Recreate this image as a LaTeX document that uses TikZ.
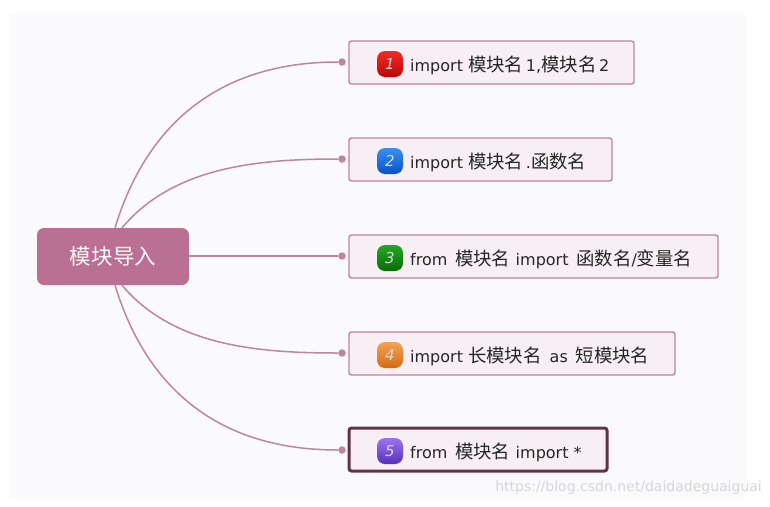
\documentclass[tikz,border=0pt]{standalone}
\usepackage{fontspec}
\setmainfont{DejaVu Sans}
\newfontfamily\cjk[Scale=1.15]{Noto Sans CJK SC}
\usepackage{tikz}
\definecolor{rootpink}{HTML}{BA7092}
\definecolor{linepink}{HTML}{BE859D}
\definecolor{boxpink}{HTML}{F7EFF3}
\definecolor{darkplum}{HTML}{5F3449}
\definecolor{paper}{HTML}{FAFAFC}
\definecolor{redA}{HTML}{F52A22}\definecolor{redB}{HTML}{B80808}
\definecolor{blueA}{HTML}{3A90F0}\definecolor{blueB}{HTML}{0A52C4}
\definecolor{greenA}{HTML}{22AA22}\definecolor{greenB}{HTML}{0A6A0A}
\definecolor{orangeA}{HTML}{F6A254}\definecolor{orangeB}{HTML}{D46A12}
\definecolor{violetA}{HTML}{9C74F0}\definecolor{violetB}{HTML}{5630BC}
\tikzset{
  topic/.style={draw=linepink, fill=boxpink, rounded corners=2.5pt, line width=1.4pt, minimum height=43pt, inner sep=0pt},
  label/.style={anchor=west, inner sep=0pt, text=black!85, font=\fontsize{16}{18}\selectfont},
  badge/.style={rounded corners=8pt, minimum size=26pt, inner sep=0pt, text=white!85!black, font=\fontsize{15}{18}\selectfont\itshape},
  knob/.style={circle, fill=linepink, minimum size=7.5pt, inner sep=0pt},
  wire/.style={draw=linepink, line width=1.5pt}
}
\begin{document}
\begin{tikzpicture}[x=1pt, y=-1pt]
  \useasboundingbox (0, 0) rectangle (770, 506);
  \fill[paper] (10, 14) rectangle (746, 498);
  \node[fill=rootpink, rounded corners=7pt, minimum width=152pt, minimum height=57pt, inner sep=0pt, text=white!88!pink, font=\fontsize{18.7}{22}\selectfont] (Root) at (113, 256.5) {\cjk 模块导入};

  \node[topic, minimum width=285pt] (T1) at (491.5, 62.5) {};
  \node[topic, minimum width=263pt] (T2) at (480.5, 159.5) {};
  \node[topic, minimum width=369pt] (T3) at (533.5, 256.5) {};
  \node[topic, minimum width=326pt] (T4) at (512, 353.5) {};
  \node[topic, draw=darkplum, line width=3pt, minimum width=258pt] (T5) at (478, 449.5) {};

  \node[badge, top color=redA, bottom color=redB] (B1) at (390, 64) {1};
  \node[badge, top color=blueA, bottom color=blueB] (B2) at (390, 161) {2};
  \node[badge, top color=greenA, bottom color=greenB] (B3) at (390, 258) {3};
  \node[badge, top color=orangeA, bottom color=orangeB] (B4) at (390, 355) {4};
  \node[badge, top color=violetA, bottom color=violetB] (B5) at (390, 451) {5};

  \node[label] (L1) at (410, 65.5) {import {\cjk 模块名}\,1,{\cjk 模块名}\,2};
  \node[label] (L2) at (410, 162.5) {import {\cjk 模块名}\,.{\cjk 函数名}};
  \node[label] (L3) at (410, 259.5) {from\, {\cjk 模块名}\,\,import\, {\cjk 函数名}/{\cjk 变量名}};
  \node[label] (L4) at (410, 356.5) {import {\cjk 长模块名}\,\,\,as\, {\cjk 短模块名}};
  \node[label] (L5) at (410, 452.5) {from\, {\cjk 模块名}\,\,import *};

  \node[knob] (K1) at (342, 62) {}; \node[knob] (K2) at (342, 159) {}; \node[knob] (K3) at (342, 256) {};
  \node[knob] (K4) at (342, 353) {}; \node[knob] (K5) at (342, 450) {};

  \draw[wire] ([xshift=2pt]Root.north) to[out=73, in=180, looseness=1.05] (K1);
  \draw[wire] ([xshift=9pt]Root.north) to[out=50, in=180, looseness=0.9] (K2);
  \draw[wire] (Root.east |- K3) to (K3);
  \draw[wire] ([xshift=9pt]Root.south) to[out=-50, in=180, looseness=0.9] (K4);
  \draw[wire] ([xshift=2pt]Root.south) to[out=-73, in=180, looseness=1.05] (K5);

  \node[anchor=east, inner sep=0pt, text=black!16, font=\fontsize{14}{16}\selectfont] (Mark) at (762, 488) {https://blog.csdn.net/daidadeguaiguai};
\end{tikzpicture}
\end{document}
